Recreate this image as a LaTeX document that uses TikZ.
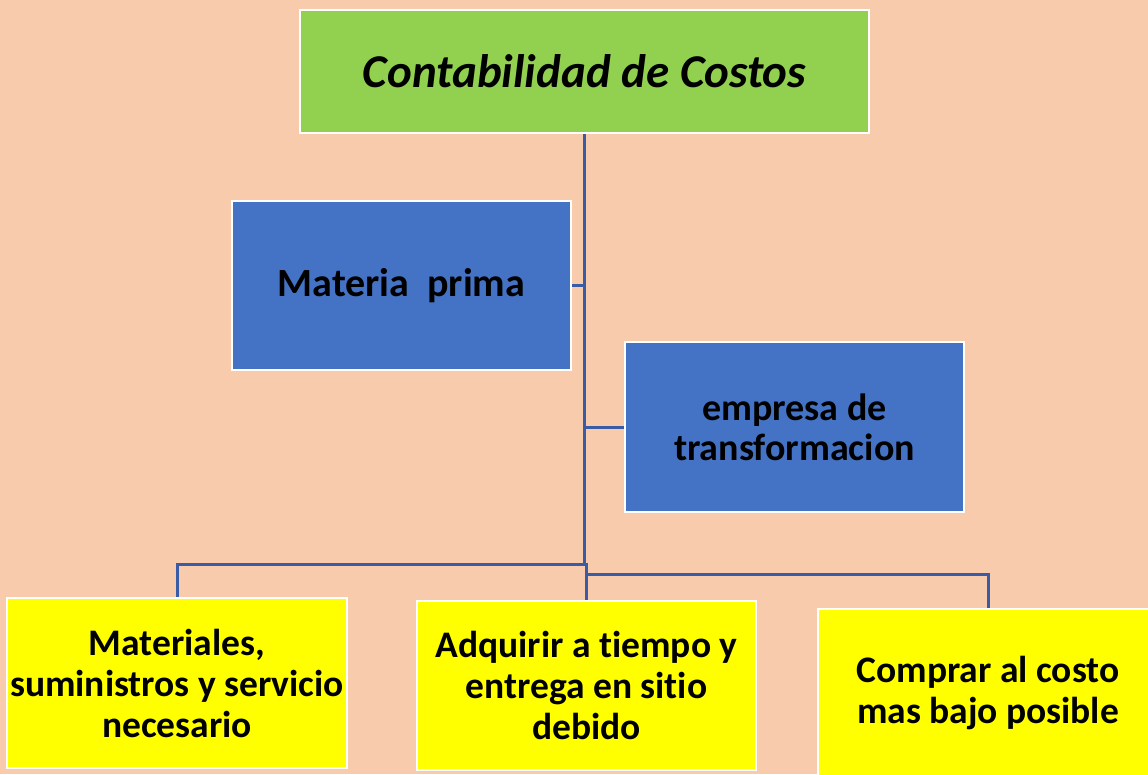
\documentclass[tikz,border=0pt]{standalone}
\usepackage{fontspec}
\setmainfont{Carlito}[Ligatures=NoCommon]
\definecolor{bgpeach}{HTML}{F8CBAD}
\definecolor{topgreen}{HTML}{92D050}
\definecolor{boxblue}{HTML}{4472C4}
\definecolor{boxyellow}{HTML}{FFFF00}
\definecolor{linkblue}{HTML}{3A5BA6}
\begin{document}
\begin{tikzpicture}[x=1pt,y=-1pt,
  box/.style={draw=white, line width=2.2pt, rectangle, inner sep=0pt, align=center, font=\bfseries, text=black},
  conn/.style={draw=linkblue, line width=3pt}]
\fill[bgpeach] (0,0) rectangle (1148,774);
\useasboundingbox (0,0) rectangle (1148,774);
\clip (0,0) rectangle (1148,774);
% boxes
\node[box, fill=topgreen, minimum width=569pt, minimum height=123pt, font=\bfseries\itshape\fontsize{47}{54}\selectfont] (top) at (584.5,71.5) {Contabilidad de Costos};
\node[box, fill=boxblue, minimum width=339pt, minimum height=169pt, font=\bfseries\fontsize{40}{46}\selectfont] (mp) at (401.5,285.5) {Materia\ \ prima};
\node[box, fill=boxblue, minimum width=339pt, minimum height=170pt, font=\bfseries\fontsize{38}{40}\selectfont] (emp) at (794.5,427) {empresa de\\transformacion};
\node[box, fill=boxyellow, minimum width=340pt, minimum height=170pt, font=\bfseries\fontsize{37.5}{41}\selectfont] (y1) at (177,683) {Materiales,\\suministros y servicio\\necesario};
\node[box, fill=boxyellow, minimum width=339pt, minimum height=169pt, font=\bfseries\fontsize{37.5}{41}\selectfont] (y2) at (586.5,685.5) {Adquirir a tiempo y\\entrega en sitio\\debido};
\node[box, fill=boxyellow, minimum width=340pt, minimum height=168pt, font=\bfseries\fontsize{37.5}{41}\selectfont] (y3) at (988,693) {Comprar al costo\\mas bajo posible};
% connectors
\coordinate (j) at (584.5,564);
\coordinate (k) at (586.5,574);
\draw[conn] (top.south) -- (j);
\draw[conn] (mp.east) -- (mp.east -| top.south);
\draw[conn] (emp.west) -- (emp.west -| top.south);
\draw[conn] (j) -| (y1.north);
\draw[conn] (j) -| (y2.north);
\draw[conn] (k) -| (y3.north);
\end{tikzpicture}
\end{document}
